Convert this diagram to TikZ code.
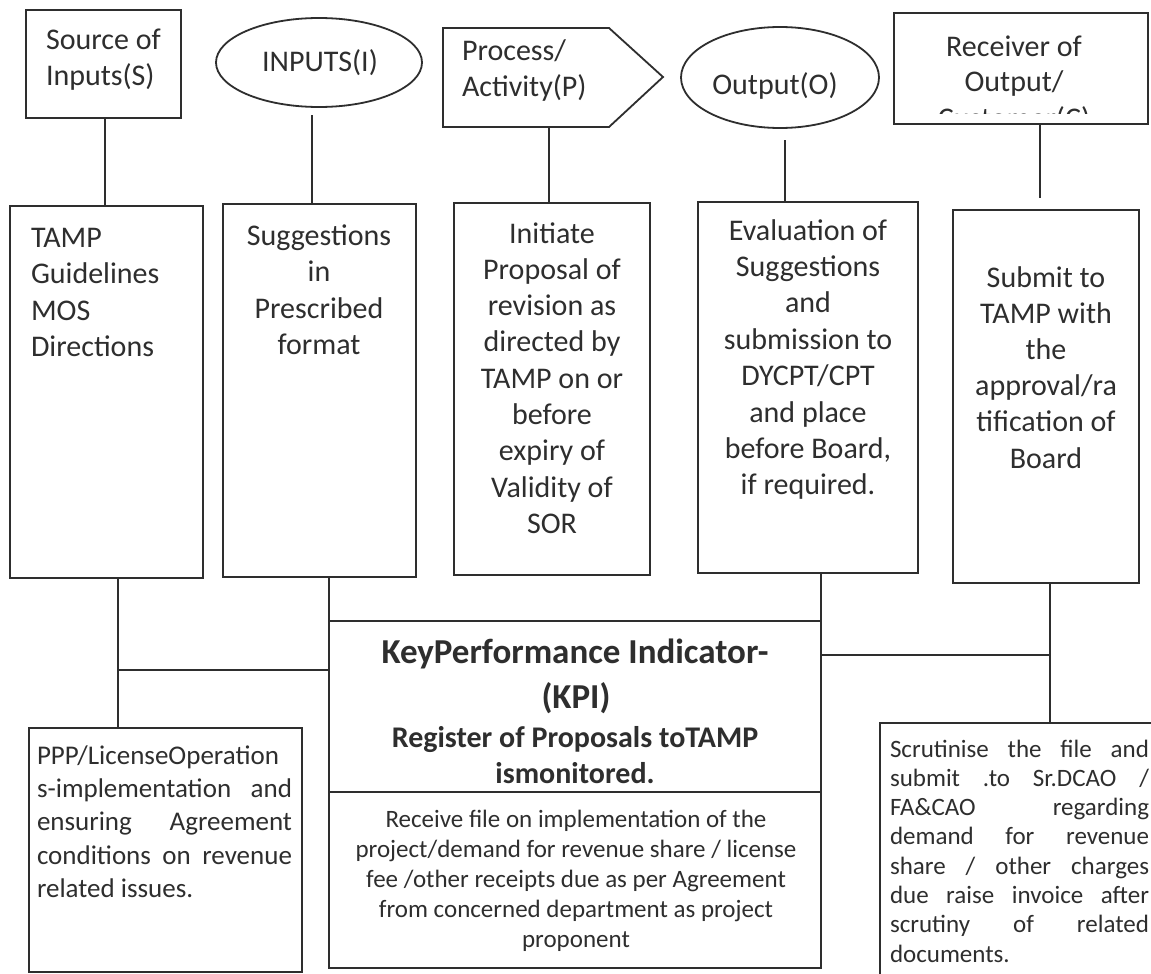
\documentclass[tikz,border=0pt]{standalone}
\usepackage{fontspec}
\setmainfont{Carlito}
\usetikzlibrary{shapes.geometric}
\definecolor{ink}{HTML}{2E2E2E}
\begin{document}
\begin{tikzpicture}[x=1pt,y=-1pt,
  box/.style={draw=ink, line width=1.8pt, rectangle, inner sep=0pt, outer sep=0pt},
  oval/.style={draw=ink, line width=1.8pt, ellipse, inner sep=0pt, outer sep=0pt},
  link/.style={draw=ink, line width=1.8pt},
  txt/.style={text=ink, inner sep=0pt, outer sep=0pt},
  fbig/.style={font=\fontsize{30}{36}\selectfont},
  fmid/.style={font=\fontsize{27}{33}\selectfont},
  fsm/.style={font=\fontsize{25}{30}\selectfont},
  ftitle/.style={font=\bfseries\fontsize{35}{42}\selectfont},
  fsub/.style={font=\bfseries\fontsize{30}{36}\selectfont}]
\useasboundingbox (0,0) rectangle (1151,974);
\fill[white] (0,0) rectangle (1151,974);
\clip (0,0) rectangle (1151,974);

% ---------- top row ----------
\node[box, minimum width=155pt, minimum height=108pt] (src) at (103.5,64) {};
\node[oval, minimum width=206pt, minimum height=89pt] (inp) at (319,62.5) {};
\draw[link, line join=miter] (443,28) -- (609,28) -- (663,77) -- (609,127) -- (443,127) -- cycle;
\coordinate (procs) at (549,127);
\node[oval, minimum width=198pt, minimum height=101pt] (out) at (780,77.5) {};
\node[box, minimum width=254pt, minimum height=111pt] (rcv) at (1021,68.5) {};

\node[txt, fbig, anchor=base west] (src-t1) at (46,50) {Source of};
\node[txt, fbig, anchor=base west] (src-t2) at (46,85) {Inputs(S)};
\node[txt, fbig, anchor=base] (inp-t) at (320,71) {INPUTS(I)};
\node[txt, fbig, anchor=base west] (proc-t1) at (462,60) {Process/};
\node[txt, fbig, anchor=base west] (proc-t2) at (462,96) {Activity(P)};
\node[txt, fbig, anchor=base] (out-t) at (775,95) {Output(O)};
\begin{scope}
  \clip (895,14) rectangle (1147,113.5);
  \node[txt, fbig, anchor=base] (rcv-t1) at (1014,57) {Receiver of};
  \node[txt, fbig, anchor=base] (rcv-t2) at (1014,92) {Output/};
  \node[txt, fbig, anchor=base] (rcv-t3) at (1014,128) {Customer(C)};
\end{scope}

% ---------- middle row ----------
\node[box, minimum width=193pt, minimum height=372pt] (tamp) at (106.5,392) {};
\node[box, minimum width=193pt, minimum height=373pt] (sugg) at (319.5,390.5) {};
\node[box, minimum width=196pt, minimum height=372pt] (init) at (552,389) {};
\node[box, minimum width=220pt, minimum height=371pt] (eval) at (808,387.5) {};
\node[box, minimum width=186pt, minimum height=373pt] (subm) at (1046,396.5) {};

\foreach \t [count=\i from 0] in {TAMP,Guidelines,MOS,Directions}
  \node[txt, fbig, anchor=base west] (tamp-t\i) at (31,{247+36.6*\i}) {\t};
\foreach \t [count=\i from 0] in {Suggestions,in,Prescribed,format}
  \node[txt, fbig, anchor=base] (sugg-t\i) at (319,{245+36.6*\i}) {\t};
\foreach \t [count=\i from 0] in {Initiate,Proposal of,revision as,directed by,TAMP on or,before,expiry of,Validity of,SOR}
  \node[txt, fbig, anchor=base] (init-t\i) at (552,{243+36.3*\i}) {\t};
\foreach \t [count=\i from 0] in {Evaluation of,Suggestions,and,submission to,DYCPT/CPT,and place,{before Board,},if required.}
  \node[txt, fbig, anchor=base] (eval-t\i) at (808,{240+36.4*\i}) {\t};
\foreach \t [count=\i from 0] in {Submit to,TAMP with,the,approval/ra,tification of,Board}
  \node[txt, fbig, anchor=base] (subm-t\i) at (1046,{287+36.2*\i}) {\t};

% ---------- bottom row ----------
\node[box, minimum width=492pt, minimum height=347pt] (kpi) at (575,794.5) {};
\coordinate (kdivl) at (329,792);
\coordinate (kdivr) at (821,792);
\draw[link] (kdivl) -- (kdivr);
\node[box, minimum width=273pt, minimum height=244pt] (ppp) at (165.5,850) {};
\node[box, minimum width=285pt, minimum height=267pt] (scr) at (1022.5,856.5) {};

\node[txt, ftitle, anchor=base] (kpi-t1) at (575,663) {KeyPerformance Indicator-};
\node[txt, ftitle, anchor=base] (kpi-t2) at (576,708) {(KPI)};
\node[txt, fsub, anchor=base] (kpi-t3) at (575,747) {Register of Proposals toTAMP};
\node[txt, fsub, anchor=base] (kpi-t4) at (575,783) {ismonitored.};
\foreach \t [count=\i from 0] in {Receive file on implementation of the,project/demand for revenue share / license,fee /other receipts due as per Agreement,from concerned department as project,proponent}
  \node[txt, fsm, anchor=base] (kpi-l\i) at (576,{827+30*\i}) {\t};

\node[txt, fmid, anchor=base west] (ppp-t0) at (37,764) {PPP/LicenseOperation};
\node[txt, fmid, anchor=base west] (ppp-t1) at (37,797.3) {\hbox to 255pt{s-implementation\hfill and}};
\node[txt, fmid, anchor=base west] (ppp-t2) at (37,830.6) {\hbox to 255pt{ensuring\hfill Agreement}};
\node[txt, fmid, anchor=base west] (ppp-t3) at (37,864) {\hbox to 255pt{conditions\hfill on\hfill revenue}};
\node[txt, fmid, anchor=base west] (ppp-t4) at (37,897.3) {related issues.};

\node[txt, fsm, anchor=base west] (scr-t0) at (890,757) {\hbox to 259pt{Scrutinise\hfill the\hfill file\hfill and}};
\node[txt, fsm, anchor=base west] (scr-t1) at (890,786.3) {\hbox to 259pt{submit\hfill .to\hfill Sr.DCAO\hfill /}};
\node[txt, fsm, anchor=base west] (scr-t2) at (890,815.6) {\hbox to 259pt{FA\&CAO\hfill regarding}};
\node[txt, fsm, anchor=base west] (scr-t3) at (890,844.9) {\hbox to 259pt{demand\hfill for\hfill revenue}};
\node[txt, fsm, anchor=base west] (scr-t4) at (890,874.2) {\hbox to 259pt{share\hfill /\hfill other\hfill charges}};
\node[txt, fsm, anchor=base west] (scr-t5) at (890,903.5) {\hbox to 259pt{due\hfill raise\hfill invoice\hfill after}};
\node[txt, fsm, anchor=base west] (scr-t6) at (890,932.8) {\hbox to 259pt{scrutiny\hfill of\hfill related}};
\node[txt, fsm, anchor=base west] (scr-t7) at (890,962) {documents.};

% ---------- connectors ----------
\coordinate (inpgap) at (312,115);
\coordinate (outgap) at (785,140);
\coordinate (rcvend) at (1040,198);
\coordinate (jl) at (118,670);
\coordinate (jr) at (1050,655);
\draw[link] (105,0 |- src.south) -- (105,0 |- tamp.north);
\draw[link] (inpgap) -- (inpgap |- sugg.north);
\draw[link] (procs) -- (procs |- init.north);
\draw[link] (outgap) -- (outgap |- eval.north);
\draw[link] (rcvend |- rcv.south) -- (rcvend);

\draw[link] (118,0 |- tamp.south) -- (118,0 |- ppp.north);
\draw[link] (jl) -- (jl -| kpi.west);
\draw[link] (329,0 |- sugg.south) -- (kpi.north west);
\draw[link] (821,0 |- eval.south) -- (kpi.north east);
\draw[link] (jr -| kpi.east) -- (jr);
\draw[link] (1050,0 |- subm.south) -- (1050,0 |- scr.north);
\end{tikzpicture}
\end{document}
